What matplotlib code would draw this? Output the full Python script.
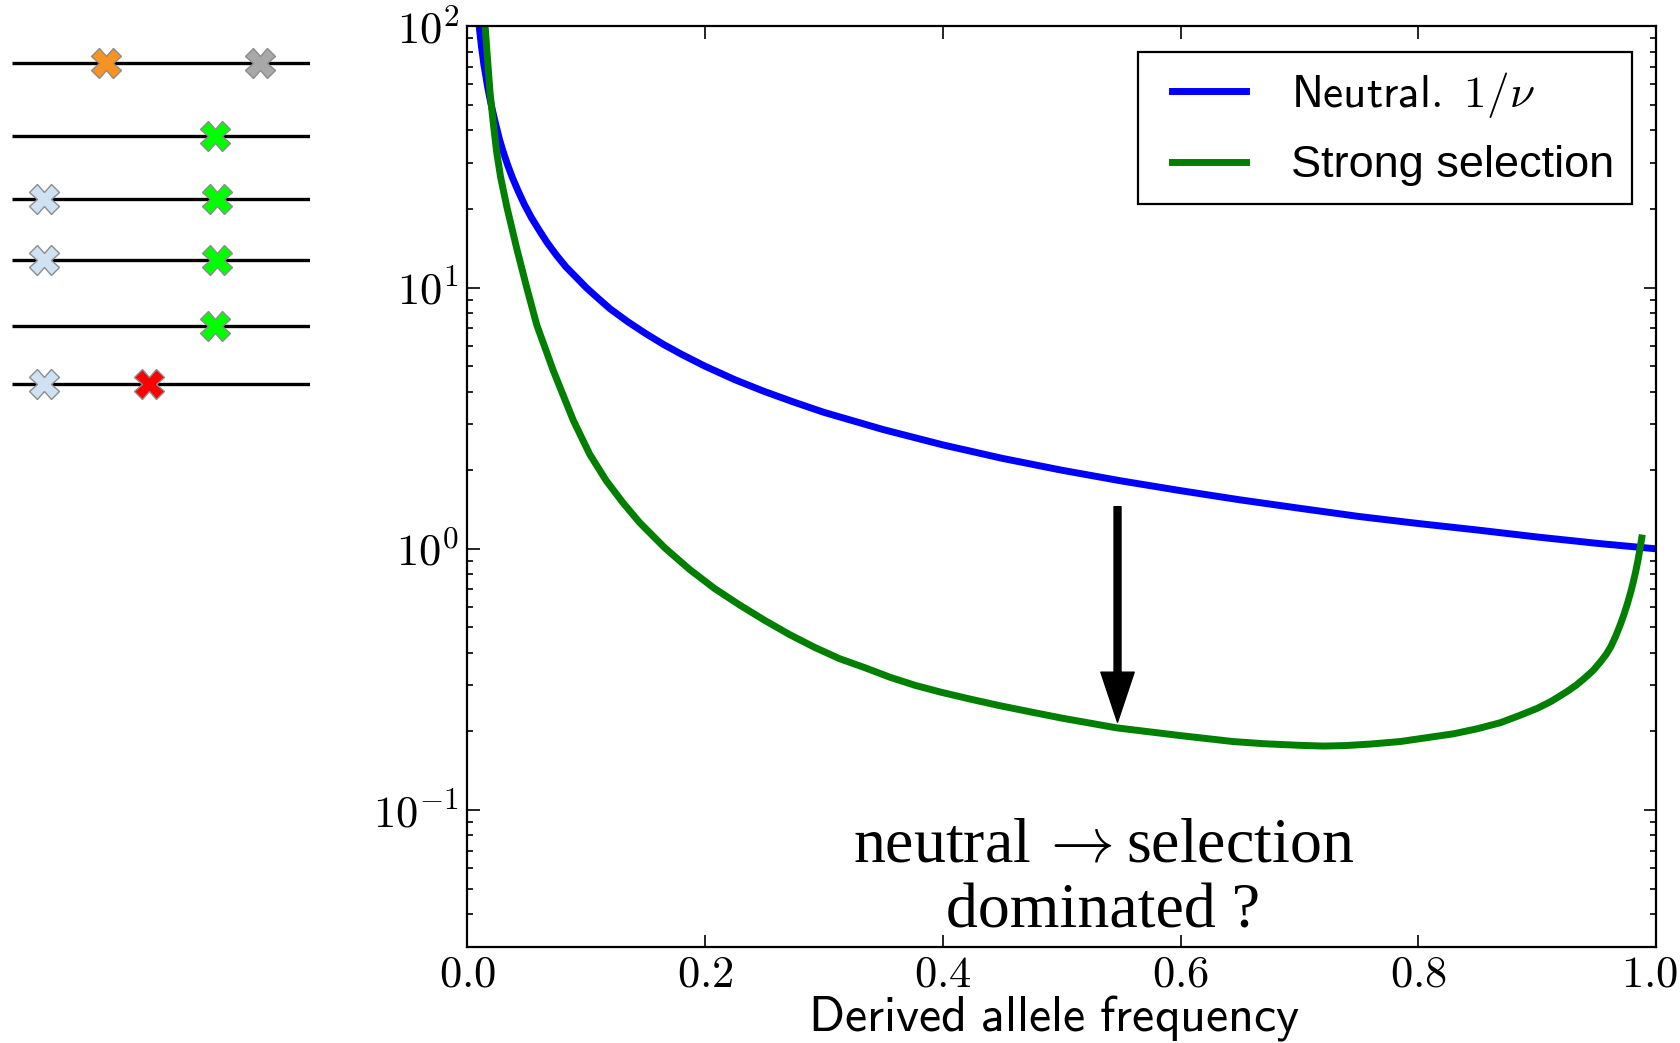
import math

import matplotlib
matplotlib.use("Agg")
import matplotlib.pyplot as plt
from matplotlib.legend_handler import HandlerLine2D
from matplotlib.lines import Line2D
from matplotlib.ticker import FixedLocator, FuncFormatter, LogLocator, NullFormatter
from matplotlib.transforms import ScaledTranslation

plt.rcParams["mathtext.fontset"] = "cm"

# site frequency spectra
nu_neutral = [0.01, 0.011, 0.012, 0.013, 0.014, 0.015, 0.017, 0.019, 0.021, 0.024,
              0.027, 0.03, 0.034, 0.038, 0.043, 0.048, 0.054, 0.06, 0.067, 0.075,
              0.083, 0.092, 0.1, 0.11, 0.12, 0.135, 0.15, 0.165, 0.18, 0.2,
              0.225, 0.25, 0.275, 0.3, 0.35, 0.4, 0.45, 0.5, 0.55, 0.6,
              0.65, 0.7, 0.75, 0.8, 0.85, 0.9, 0.95, 1.0]
neutral = [100, 91, 83, 77, 71, 67, 59, 53, 48, 42,
           37, 33.3, 29.4, 26.3, 23.3, 20.8, 18.5, 16.7, 14.9, 13.3,
           12.0, 10.9, 10, 9.1, 8.3, 7.4, 6.67, 6.06, 5.56, 5.0,
           4.44, 4.0, 3.64, 3.33, 2.86, 2.5, 2.22, 2.0, 1.82, 1.67,
           1.54, 1.43, 1.33, 1.25, 1.18, 1.11, 1.05, 1.0]

nu_sel = [0.015, 0.017, 0.0191, 0.022, 0.0247, 0.028, 0.0331, 0.0416, 0.05, 0.0584,
          0.0724, 0.0892, 0.103, 0.117, 0.131, 0.145, 0.166, 0.187, 0.208, 0.229,
          0.25, 0.271, 0.292, 0.313, 0.335, 0.356, 0.377, 0.398, 0.423, 0.448,
          0.475, 0.5, 0.546, 0.6, 0.644, 0.67, 0.7, 0.72, 0.74, 0.76,
          0.785, 0.83, 0.85, 0.869, 0.885, 0.9, 0.912, 0.925, 0.933, 0.94,
          0.947, 0.953, 0.958, 0.962, 0.966, 0.97, 0.973, 0.976, 0.979, 0.981,
          0.983, 0.985, 0.987, 0.988]
strong_sel = [100, 75, 56, 42, 33, 26.5, 20.5, 14.1, 10, 7.2,
              4.8, 3.1, 2.3, 1.82, 1.50, 1.26, 1.01, 0.834, 0.705, 0.61,
              0.533, 0.47, 0.42, 0.38, 0.35, 0.322, 0.30, 0.283, 0.266, 0.251,
              0.237, 0.225, 0.2065, 0.1928, 0.183, 0.1795, 0.177, 0.1758, 0.1767, 0.179,
              0.183, 0.196, 0.205, 0.216, 0.230, 0.245, 0.261, 0.284, 0.301, 0.32,
              0.342, 0.368, 0.394, 0.422, 0.462, 0.513, 0.56, 0.618, 0.69, 0.75,
              0.822, 0.912, 1.03, 1.1]

x_ticks = [0.0, 0.2, 0.4, 0.6, 0.8, 1.0]
y_ticks = [0.1, 1, 10, 100]

# cartoon of haplotypes with mutations (x along sequence, y = row in pixels)
row_y = [63, 136, 199, 260, 326, 384]
site_row = [0, 0, 1, 2, 2, 3, 3, 4, 5, 5]
site_x = [96, 250, 205, 34, 207, 34, 207, 205, 34, 139]
site_color = ["#f7931e", "#a8a8a8", "#00ff00", "#cfe2f3", "#00ff00",
              "#cfe2f3", "#00ff00", "#00ff00", "#cfe2f3", "#ff0000"]

W, H = 1680, 1043
fig = plt.figure(figsize=(W / 100, H / 100), dpi=100)

# haplotype sketch
sk = fig.add_axes([10 / W, 1 - 420 / H, 300 / W, 420 / H])
sk.set_xlim(0, 300)
sk.set_ylim(420, 0)
sk.axis("off")
for y in row_y:
    sk.plot([2, 300], [y, y], color="black", lw=2.4, solid_capstyle="butt")
for r, x, c in zip(site_row, site_x, site_color):
    sk.plot(x, row_y[r], marker="X", ms=21, color=c, mec="#8c8c8c", mew=1.0)

# main plot
ax = fig.add_axes([467.3 / W, 1 - 946.7 / H, 1188.7 / W, 920.4 / H])
ax.plot(nu_neutral, neutral, color="#0000ff", lw=5, label=r"$\mathsf{Neutral.}\ 1/\nu$")
ax.plot(nu_sel, strong_sel, color="#007f00", lw=5, label="Strong selection")
ax.set_yscale("log")
ax.set_xlim(0, 1)
ax.set_ylim(0.03, 100)

ax.xaxis.set_major_locator(FixedLocator(x_ticks))
ax.xaxis.set_major_formatter(FuncFormatter(lambda v, p: r"$%.1f$" % v))
ax.yaxis.set_major_locator(FixedLocator(y_ticks))
ax.yaxis.set_minor_locator(LogLocator(base=10, subs=range(2, 10)))
ax.yaxis.set_major_formatter(FuncFormatter(lambda v, p: r"$10^{%d}$" % round(math.log10(v))))
ax.yaxis.set_minor_formatter(NullFormatter())
ax.tick_params(which="both", direction="in", top=True, right=True, labelsize=32)
ax.tick_params(axis="x", pad=4)
ax.tick_params(axis="y", pad=6)
ax.tick_params(which="major", length=9, width=1.2)
ax.tick_params(which="minor", length=4.5, width=1.2)
for s in ax.spines.values():
    s.set_linewidth(1.6)

# keep the "1.0" label inside the canvas
last = ax.xaxis.get_major_ticks()[-1].label1
last.set_transform(last.get_transform() + ScaledTranslation(-5 / 72, 0, fig.dpi_scale_trans))

ax.set_xlabel(r"$\mathsf{Derived\ allele\ frequency}$", fontsize=36)
ax.xaxis.set_label_coords(0.494, -0.05)

leg = ax.legend(loc="upper right", bbox_to_anchor=(0.9798, 0.9721), borderaxespad=0,
                fontsize=32.5, handlelength=1.98, handletextpad=1.0, borderpad=0.4,
                labelspacing=0.56, fancybox=False, framealpha=1, edgecolor="black",
                handler_map={Line2D: HandlerLine2D(xpad=0.35)})
leg.get_frame().set_linewidth(1.6)
leg.get_texts()[1].set_fontfamily("Liberation Sans")

ax.annotate("", xy=(0.547, 0.217), xytext=(0.547, 1.45),
            arrowprops=dict(facecolor="black", edgecolor="black", width=5,
                            headwidth=24, headlength=36, shrink=0))
ax.text(0.535, 0.073, "neutral$\\,\\rightarrow$selection\ndominated ?", transform=ax.transAxes,
        ha="center", va="center", fontsize=46, family="Liberation Serif", linespacing=1.2)

fig.savefig("out.png", dpi=100)
